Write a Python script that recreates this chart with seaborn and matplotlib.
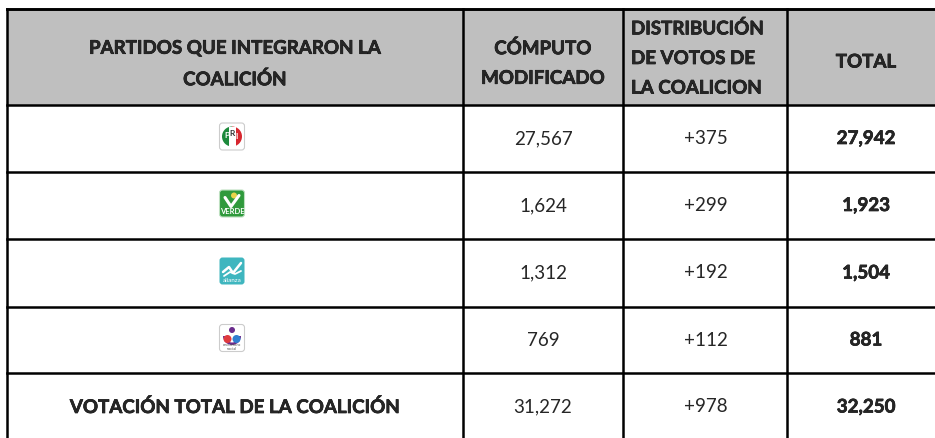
import matplotlib.pyplot as plt
import seaborn as sns
import matplotlib.patheffects as pe
from matplotlib.patches import Rectangle, FancyBboxPatch, Circle, Wedge

sns.set_style("white")
plt.rcParams['font.family'] = ['Lato', 'DejaVu Sans']

headers = ["PARTIDOS QUE INTEGRARON LA\nCOALICIÓN", "CÓMPUTO\nMODIFICADO",
           "DISTRIBUCIÓN\nDE VOTOS DE\nLA COALICION", "TOTAL"]
partidos = ["PRI", "VERDE", "NUEVA ALIANZA", "ENCUENTRO SOCIAL"]
computo = ["27,567", "1,624", "1,312", "769"]
distribucion = ["+375", "+299", "+192", "+112"]
total = ["27,942", "1,923", "1,504", "881"]
fila_total = ["VOTACIÓN TOTAL DE LA COALICIÓN", "31,272", "+978", "32,250"]

col_edges = [7, 463, 623, 787, 950]
row_edges = [9, 105, 172, 239, 307, 373, 450]
grey = "#bfbfbf"
fs = 13.5
heavy = dict(fontweight="bold", path_effects=[pe.withStroke(linewidth=0.45, foreground="black")])

fig = plt.figure(figsize=(9.35, 4.38), dpi=100)
ax = fig.add_axes([0, 0, 1, 1])
ax.set_xlim(0, 935)
ax.set_ylim(438, 0)
ax.axis("off")

ax.add_patch(Rectangle((col_edges[0], row_edges[0]), col_edges[-1] - col_edges[0],
                       row_edges[1] - row_edges[0], color=grey, lw=0))

# grid lines
for y in row_edges[:-1]:
    ax.plot([col_edges[0], col_edges[-1]], [y, y], color="black", lw=2.1 if y == row_edges[0] else 1.8,
            solid_capstyle="projecting")
for x in col_edges[:-1]:
    ax.plot([x, x], [row_edges[0], row_edges[-1]], color="black", lw=1.8, solid_capstyle="projecting")

# header
ax.text(235, 64, headers[0], ha="center", va="center", fontsize=fs, linespacing=1.9, **heavy)
ax.text(543, 63, headers[1], ha="center", va="center", fontsize=fs, linespacing=1.9, **heavy)
ax.text(631, 58, headers[2], ha="left", va="center", fontsize=fs, linespacing=1.9, **heavy)
ax.text(866, 62, headers[3], ha="center", va="center", fontsize=fs, **heavy)


def logo(name, cx, cy):
    w, h = 25, 27
    x0, y0 = cx - w / 2, cy - h / 2
    if name == "PRI":
        ax.add_patch(FancyBboxPatch((x0, y0), w, h, boxstyle="round,pad=0,rounding_size=3",
                                    fc="white", ec="#cccccc", lw=0.8))
        ax.add_patch(Wedge((cx, cy), 10, 90, 270, fc="#1d8a3c", ec="none"))
        ax.add_patch(Wedge((cx, cy), 10, -90, 90, fc="#d7262e", ec="none"))
        ax.add_patch(Rectangle((cx - 3.5, cy - 10), 7, 20, fc="white", ec="none"))
        ax.text(cx - 5, cy - 1, "P", fontsize=6, fontweight="bold", color="white", ha="center", va="center")
        ax.text(cx, cy - 3, "R", fontsize=6, fontweight="bold", color="#333333", ha="center", va="center")
        ax.text(cx + 5, cy, "I", fontsize=6, fontweight="bold", color="white", ha="center", va="center")
    elif name == "VERDE":
        ax.add_patch(FancyBboxPatch((x0, y0), w, h, boxstyle="round,pad=0,rounding_size=3",
                                    fc="#2f9a3c", ec="#bde0c0", lw=0.8))
        ax.plot([cx - 7, cx - 1, cx + 7], [cy - 6, cy + 3, cy - 8], color="white", lw=2.2)
        ax.add_patch(Circle((cx + 2, cy - 8), 3, fc="#e8d34a", ec="none"))
        ax.text(cx, cy + 8, "VERDE", fontsize=5.5, fontweight="bold", color="white", ha="center", va="center")
    elif name == "NUEVA ALIANZA":
        ax.add_patch(FancyBboxPatch((x0, y0), w, h, boxstyle="round,pad=0,rounding_size=3",
                                    fc="#3fb6bf", ec="none"))
        ax.plot([cx - 9, cx - 3, cx + 1, cx + 9], [cy + 1, cy - 4, cy + 2, cy - 8], color="white", lw=1.8)
        ax.plot([cx - 8, cx - 2, cx + 3, cx + 9], [cy + 5, cy + 1, cy + 3, cy], color="white", lw=1.3)
        ax.text(cx, cy + 9, "alianza", fontsize=4.5, color="white", ha="center", va="center")
    else:
        ax.add_patch(FancyBboxPatch((x0, y0), w, h, boxstyle="round,pad=0,rounding_size=3",
                                    fc="white", ec="#cccccc", lw=0.8))
        ax.add_patch(Wedge((cx, cy - 2), 9, 0, 180, width=2.5, fc="#6a2c8c", ec="none"))
        ax.add_patch(Circle((cx, cy - 8), 3, fc="#6a2c8c", ec="none"))
        ax.add_patch(Circle((cx - 4.5, cy + 1), 4, fc="#e03a3e", ec="none"))
        ax.add_patch(Circle((cx + 4.5, cy + 1), 4, fc="#2f7fd0", ec="none"))
        ax.text(cx, cy + 9.5, "encuentro\nsocial", fontsize=3, color="#555555", ha="center", va="center",
                linespacing=1)


for i, p in enumerate(partidos):
    cy = (row_edges[i + 1] + row_edges[i + 2]) / 2
    logo(p, 232, cy - 2)
    ax.text(543, cy, computo[i], ha="center", va="center", fontsize=fs)
    ax.text(706, cy, distribucion[i], ha="center", va="center", fontsize=fs)
    ax.text(866, cy, total[i], ha="center", va="center", fontsize=fs, **heavy)

ty = 407
ax.text(235, ty, fila_total[0], ha="center", va="center", fontsize=fs, **heavy)
ax.text(543, ty, fila_total[1], ha="center", va="center", fontsize=fs)
ax.text(706, ty, fila_total[2], ha="center", va="center", fontsize=fs)
ax.text(866, ty, fila_total[3], ha="center", va="center", fontsize=fs, **heavy)

fig.patch.set_facecolor("white")
plt.savefig("out.png", dpi=100)
